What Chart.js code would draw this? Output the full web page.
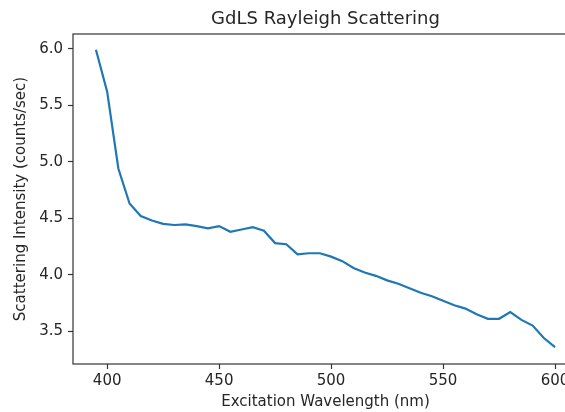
<!DOCTYPE html>
<html>
<head>
<meta charset="utf-8">
<script src="https://cdn.jsdelivr.net/npm/chart.js@4"></script>
<style>
  html, body { margin: 0; padding: 0; background: #fff; overflow: hidden; }
  #wrap { width: 600px; height: 412px; }
</style>
</head>
<body>
<div id="wrap"><canvas id="chart"></canvas></div>
<script>
// excitation wavelength (nm) and scattering intensity (counts/sec)
var wavelengths = [395, 400, 405, 410, 415, 420, 425, 430, 435, 440, 445, 450, 455, 460,
  465, 470, 475, 480, 485, 490, 495, 500, 505, 510, 515, 520, 525, 530, 535, 540, 545,
  550, 555, 560, 565, 570, 575, 580, 585, 590, 595, 600];
var intensity = [5.99, 5.62, 4.94, 4.63, 4.52, 4.48, 4.45, 4.44, 4.445, 4.43, 4.41, 4.43,
  4.38, 4.40, 4.42, 4.39, 4.28, 4.27, 4.18, 4.19, 4.19, 4.16, 4.12, 4.06, 4.02, 3.99,
  3.95, 3.92, 3.88, 3.84, 3.81, 3.77, 3.73, 3.70, 3.65, 3.61, 3.61, 3.67, 3.60, 3.55,
  3.44, 3.36];
var xTicks = [400, 450, 500, 550, 600];
var yTicks = [3.5, 4.0, 4.5, 5.0, 5.5, 6.0];

var font = "'DejaVu Sans', sans-serif";
var ink = "#262626";
var spine = "#333333";

// matplotlib-like frame around the plot area
var frame = {
  id: "frame",
  afterDatasetsDraw: function(chart) {
    var a = chart.chartArea;
    var ctx = chart.ctx;
    ctx.save();
    ctx.strokeStyle = spine;
    ctx.lineWidth = 1.2;
    ctx.strokeRect(a.left, a.top, a.right - a.left, a.bottom - a.top);
    ctx.restore();
  }
};

var points = wavelengths.map(function(w, i) { return { x: w, y: intensity[i] }; });

new Chart(document.getElementById("chart").getContext("2d"), {
  type: "line",
  data: {
    datasets: [{
      data: points,
      borderColor: "#1f77b4",
      borderWidth: 2.2,
      pointRadius: 0,
      tension: 0,
      fill: false
    }]
  },
  options: {
    responsive: true,
    maintainAspectRatio: false,
    animation: false,
    layout: { padding: { left: 0, right: 22, top: 0, bottom: 0 } },
    plugins: {
      legend: { display: false },
      tooltip: { enabled: false },
      title: {
        display: true,
        text: "GdLS Rayleigh Scattering",
        color: ink,
        fullSize: false,
        font: { family: font, size: 18, weight: "normal", lineHeight: 1.2 },
        padding: { top: 9, bottom: 3.4 }
      }
    },
    scales: {
      x: {
        type: "linear",
        min: 384.75,
        max: 610.25,
        afterBuildTicks: function(scale) {
          scale.ticks = xTicks.map(function(v) { return { value: v }; });
        },
        afterFit: function(scale) { scale.height = 48; },
        border: { display: false },
        grid: { drawOnChartArea: false, drawTicks: true, tickLength: 5, color: spine, tickWidth: 1.2 },
        ticks: { color: ink, padding: 3, maxRotation: 0, font: { family: font, size: 15 } },
        title: {
          display: true,
          text: "Excitation Wavelength (nm)",
          color: ink,
          font: { family: font, size: 15, lineHeight: 1.2 },
          padding: { top: 0, bottom: 1 }
        }
      },
      y: {
        type: "linear",
        min: 3.21,
        max: 6.13,
        afterBuildTicks: function(scale) {
          scale.ticks = yTicks.map(function(v) { return { value: v }; });
        },
        afterFit: function(scale) { scale.width = 73; },
        border: { display: false },
        grid: { drawOnChartArea: false, drawTicks: true, tickLength: 5, color: spine, tickWidth: 1.2 },
        ticks: {
          color: ink,
          padding: 5,
          font: { family: font, size: 15 },
          callback: function(v) { return v.toFixed(1); }
        },
        title: {
          display: true,
          text: "Scattering Intensity (counts/sec)",
          color: ink,
          font: { family: font, size: 15, lineHeight: 1.2 },
          padding: { top: 12, bottom: 0 }
        }
      }
    }
  },
  plugins: [frame]
});
</script>
</body>
</html>
